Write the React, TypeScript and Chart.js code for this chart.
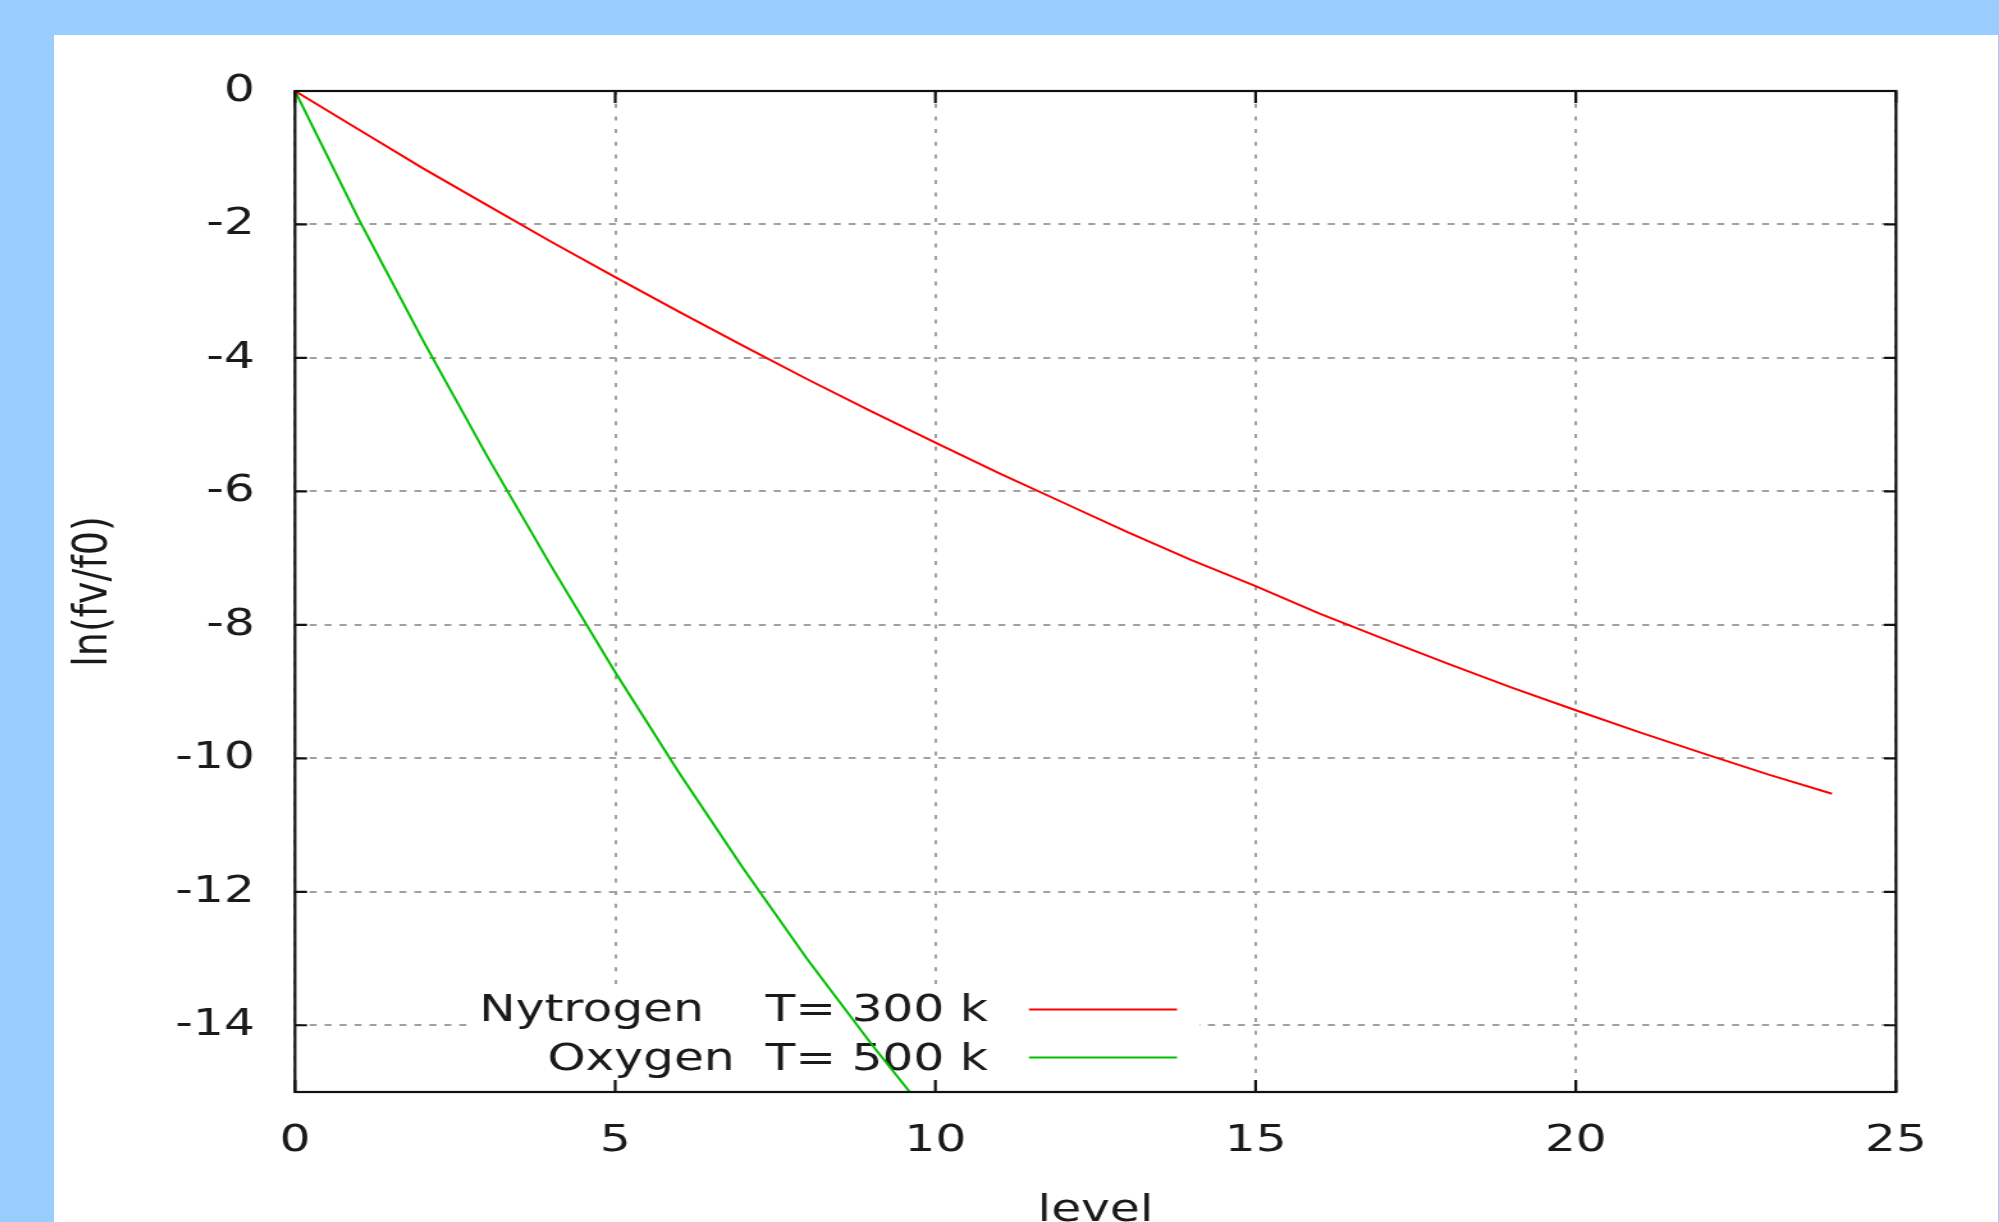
import React, { useEffect, useRef } from "react";
import { Chart, registerables } from "chart.js";

Chart.register(...registerables);

// ---- data ----
const nitrogenLevels = [0, 1, 2, 3, 4, 5, 6, 7, 8, 9, 10, 11, 12, 13, 14, 15, 16, 17, 18, 19, 20, 21, 22, 23, 24];
const nitrogenValues = [0, -0.58, -1.16, -1.71, -2.26, -2.79, -3.31, -3.82, -4.32, -4.8, -5.27, -5.73, -6.17, -6.61, -7.03, -7.42, -7.83, -8.21, -8.58, -8.94, -9.28, -9.61, -9.93, -10.24, -10.53];
const oxygenLevels = [0, 1, 2, 3, 4, 5, 6, 7, 8, 9, 10];
const oxygenValues = [0, -1.93, -3.74, -5.47, -7.12, -8.71, -10.22, -11.65, -13.01, -14.28, -15.48];
const seriesLabels = ["Nytrogen    T= 300 k", "Oxygen  T= 500 k"];
const seriesColors = ["#ff0000", "#00c000"];
const xTickValues = [0, 5, 10, 15, 20, 25];
const yTickValues = [0, -2, -4, -6, -8, -10, -12, -14];
const xTitle = "level";
const yTitle = "ln(fv/f0)";

const FONT = '"DejaVu Sans", sans-serif';
const TEXT = "#1a1a1a";

const legendPlugin = {
  id: "gpLegend",
  beforeDatasetsDraw(chart: any) {
    const ctx = chart.ctx;
    const area = chart.chartArea;
    ctx.save();
    ctx.fillStyle = "#ffffff";
    ctx.fillRect(325, 951, 570, area.bottom - 951 - 1);
    ctx.font = `38px ${FONT}`;
    ctx.textAlign = "right";
    ctx.textBaseline = "middle";
    chart.data.datasets.forEach((ds: any, i: number) => {
      const y = 976 + i * 49.5;
      ctx.fillStyle = TEXT;
      ctx.fillText(ds.label, 729.8, y);
      const ly = 974.5 + i * 48;
      ctx.strokeStyle = ds.borderColor;
      ctx.lineWidth = 2;
      ctx.beginPath();
      ctx.moveTo(761.8, ly);
      ctx.lineTo(877.5, ly);
      ctx.stroke();
    });
    ctx.restore();
  },
};

const framePlugin = {
  id: "gpFrame",
  afterDatasetsDraw(chart: any) {
    const ctx = chart.ctx;
    const { left, right, top, bottom } = chart.chartArea;
    const xs = chart.scales.x;
    const ys = chart.scales.y;
    ctx.save();
    ctx.strokeStyle = "#111111";
    ctx.lineWidth = 2.2;
    ctx.beginPath();
    xs.ticks.forEach((t: any) => {
      const px = xs.getPixelForValue(t.value);
      ctx.moveTo(px, bottom);
      ctx.lineTo(px, bottom - 12);
      ctx.moveTo(px, top);
      ctx.lineTo(px, top + 12);
    });
    ys.ticks.forEach((t: any) => {
      const py = ys.getPixelForValue(t.value);
      ctx.moveTo(left, py);
      ctx.lineTo(left + 9.4, py);
      ctx.moveTo(right, py);
      ctx.lineTo(right - 9.4, py);
    });
    ctx.stroke();
    ctx.strokeRect(left, top, right - left, bottom - top);
    ctx.restore();
  },
};

export default function App() {
  const canvasRef = useRef<HTMLCanvasElement | null>(null);

  useEffect(() => {
    const canvas = canvasRef.current;
    if (!canvas) return;
    const chart = new Chart(canvas, {
      type: "line",
      data: {
        datasets: [
          {
            label: seriesLabels[0],
            data: nitrogenLevels.map((x, i) => ({ x, y: nitrogenValues[i] })),
            borderColor: seriesColors[0],
            backgroundColor: seriesColors[0],
            borderWidth: 2,
            pointRadius: 0,
            tension: 0,
            fill: false,
          },
          {
            label: seriesLabels[1],
            data: oxygenLevels.map((x, i) => ({ x, y: oxygenValues[i] })),
            borderColor: seriesColors[1],
            backgroundColor: seriesColors[1],
            borderWidth: 2,
            pointRadius: 0,
            tension: 0,
            fill: false,
          },
        ],
      },
      options: {
        responsive: false,
        animation: false,
        devicePixelRatio: 1,
        layout: { padding: { left: 0, top: 56, right: 79.7, bottom: 0 } },
        plugins: {
          legend: { display: false },
          tooltip: { enabled: false },
        },
        scales: {
          x: {
            type: "linear",
            min: 0,
            max: 25,
            afterBuildTicks: (s: any) => {
              s.ticks = xTickValues.map((v) => ({ value: v }));
            },
            afterFit: (s: any) => {
              s.height = 130;
            },
            grid: { color: "#a0a0a0", lineWidth: 2, drawTicks: false },
            border: { display: false, dash: [4, 8.7] },
            ticks: {
              padding: 26,
              color: TEXT,
              maxRotation: 0,
              autoSkip: false,
              font: { family: FONT, size: 38 },
            },
            title: {
              display: true,
              text: xTitle,
              color: TEXT,
              font: { family: FONT, size: 38 },
              padding: { top: 0, bottom: -11.5 },
            },
          },
          y: {
            type: "linear",
            min: -15,
            max: 0,
            afterBuildTicks: (s: any) => {
              s.ticks = yTickValues.map((v) => ({ value: v }));
            },
            afterFit: (s: any) => {
              s.width = 188.3;
            },
            grid: { color: "#a0a0a0", lineWidth: 2, drawTicks: false },
            border: { display: false, dash: [5.5, 6.2] },
            ticks: {
              padding: 31.4,
              color: TEXT,
              autoSkip: false,
              font: { family: FONT, size: 38 },
            },
            title: {
              display: true,
              text: yTitle,
              color: TEXT,
              font: { family: FONT, size: 38 },
              padding: { top: 8.5, bottom: 0 },
            },
          },
        },
      },
      plugins: [legendPlugin, framePlugin],
    } as any);
    return () => chart.destroy();
  }, []);

  return (
    <div
      style={{
        position: "fixed",
        left: 0,
        top: 0,
        width: 1999,
        height: 1222,
        background: "#99ccff",
        overflow: "hidden",
      }}
    >
      <div
        style={{
          position: "absolute",
          left: 54,
          top: 35,
          width: 1944,
          height: 1187,
          background: "#ffffff",
        }}
      >
        <canvas
          ref={canvasRef}
          width={1519}
          height={1187}
          style={{ width: "1944px", height: "1187px", display: "block" }}
        />
      </div>
    </div>
  );
}
